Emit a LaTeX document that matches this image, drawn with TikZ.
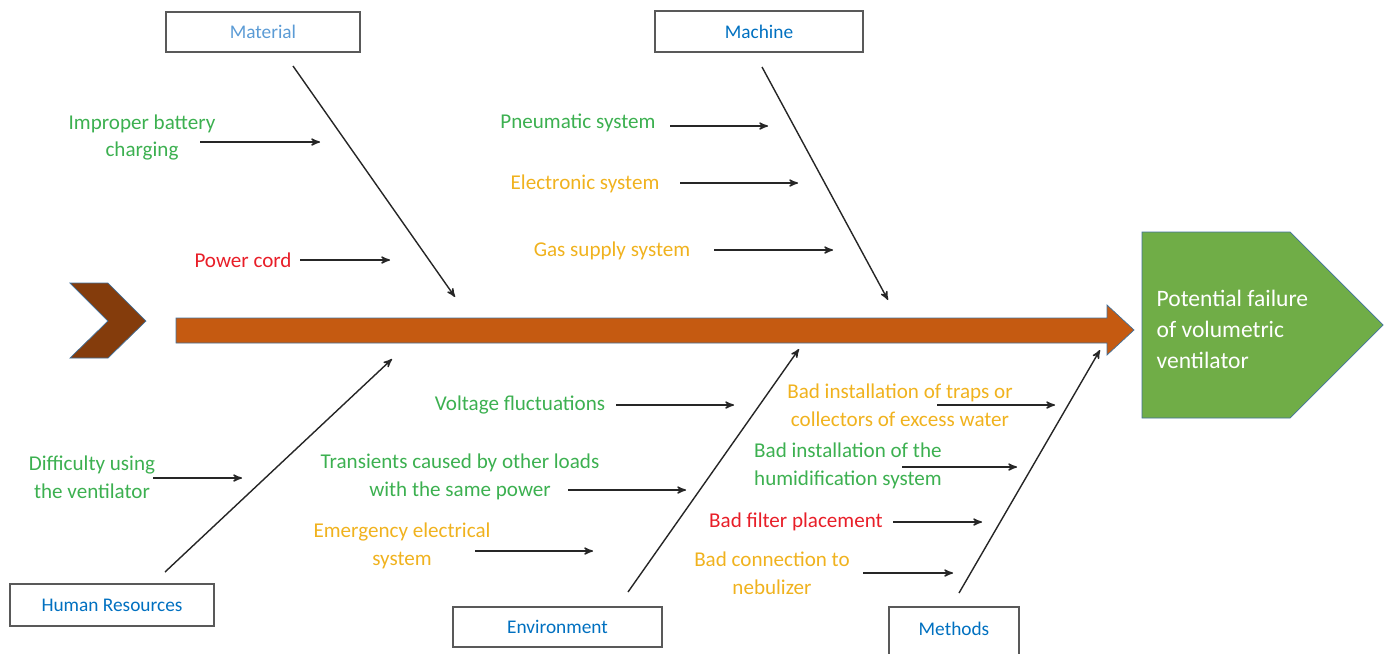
\documentclass[tikz,border=0pt]{standalone}
\usepackage{fontspec}
\setmainfont{Carlito}
\usetikzlibrary{arrows}

\definecolor{spineorange}{RGB}{197,90,17}
\definecolor{tailbrown}{RGB}{132,60,12}
\definecolor{headgreen}{RGB}{112,173,71}
\definecolor{edgeblue}{RGB}{65,113,156}
\definecolor{causegreen}{RGB}{60,176,80}
\definecolor{causegold}{RGB}{240,178,30}
\definecolor{causered}{RGB}{232,30,40}
\definecolor{catblue}{RGB}{0,112,192}
\definecolor{catlight}{RGB}{91,155,213}

\begin{document}
\begin{tikzpicture}[->,>=stealth', x=0.02cm, y=-0.02cm,
  line width=0.8pt, draw=black!85,
  every node/.style={inner sep=0pt, align=center,
    font=\fontsize{12}{15.9}\selectfont},
  catbox/.style={rectangle, draw=black!65, line width=0.9pt},
  catlabel/.style={text=catblue, font=\fontsize{11}{13}\selectfont},
  green/.style={text=causegreen},
  gold/.style={text=causegold},
  red/.style={text=causered}]

  \useasboundingbox (0,0) rectangle (1390,653);

  % tail and spine
  \filldraw[-, fill=tailbrown, draw=edgeblue, line width=0.4pt]
    (70,283) -- (108,283) -- (146,321) -- (108,358) -- (70,358) -- (108,321) -- cycle;
  \filldraw[-, fill=spineorange, draw=edgeblue, line width=0.4pt]
    (176,318) -- (1107,318) -- (1107,305) -- (1134,330) -- (1107,355)
    -- (1107,343) -- (176,343) -- cycle;

  % head
  \filldraw[-, fill=headgreen, draw=edgeblue, line width=0.4pt]
    (1142,232) -- (1290,232) -- (1383,325) -- (1290,418) -- (1142,418) -- cycle;
  \node[anchor=west, align=left, text=white,
        font=\fontsize{13.4}{17.6}\selectfont
        ] (eff) at (1156,329) {Potential failure\\of volumetric\\ventilator};

  % categories
  \node[catbox,
        minimum width = 3.88cm,
        minimum height = 0.8cm
        ] (mat) at (263,32) {};
  \node[catlabel, text=catlight] (matlab) at (mat.center) {Material};

  \node[catbox,
        minimum width = 4.16cm,
        minimum height = 0.82cm
        ] (mach) at (759,31.5) {};
  \node[catlabel] (machlab) at (mach.center) {Machine};

  \node[catbox,
        minimum width = 4.08cm,
        minimum height = 0.84cm
        ] (hr) at (112,605) {};
  \node[catlabel] (hrlab) at (hr.center) {Human Resources};

  \node[catbox,
        minimum width = 4.18cm,
        minimum height = 0.8cm
        ] (env) at (557.5,627) {};
  \node[catlabel] (envlab) at (env.center) {Environment};

  \node[catbox,
        minimum width = 2.6cm,
        minimum height = 1cm
        ] (meth) at (954,632) {};
  \node[catlabel] (methlab) at (954,629) {Methods};

  % bone ends
  \coordinate (mat1) at (293,66);   \coordinate (mat2) at (455,297);
  \coordinate (mach1) at (762,67);  \coordinate (mach2) at (888,300);
  \coordinate (hr1) at (165,572);   \coordinate (hr2) at (392,359);
  \coordinate (env1) at (628,592);  \coordinate (env2) at (799,349);
  \coordinate (meth1) at (959,593); \coordinate (meth2) at (1100,350);

  % causes
  \node[green] (impr) at (142,137.5) {Improper battery\\charging};
  \node[red] (cord) at (243,260) {Power cord};
  \node[green] (pneu) at (578,123) {Pneumatic system};
  \node[gold] (elec) at (585,184) {Electronic system};
  \node[gold] (gas) at (612,251) {Gas supply system};
  \node[green] (diff) at (92,477) {Difficulty using\\the ventilator};
  \node[green] (volt) at (520,405) {Voltage fluctuations};
  \node[green] (trans) at (460,477) {Transients caused by other loads\\with the same power};
  \node[gold] (emer) at (402,546) {Emergency electrical\\system};
  \node[gold] (traps) at (900,405) {Bad installation of traps or\\collectors of excess water};
  \node[green, align=left] (humid) at (848,466) {Bad installation of the\\humidification system};
  \node[red] (filt) at (796,522) {Bad filter placement};
  \node[gold] (nebu) at (772,573) {Bad connection to\\nebulizer};

  % cause arrow ends
  \coordinate (impr1) at (200,142);  \coordinate (impr2) at (320,142);
  \coordinate (cord1) at (300,260);  \coordinate (cord2) at (390,260);
  \coordinate (pneu1) at (670,126);  \coordinate (pneu2) at (768,126);
  \coordinate (elec1) at (680,183);  \coordinate (elec2) at (798,183);
  \coordinate (gas1) at (714,250);   \coordinate (gas2) at (833,250);
  \coordinate (diff1) at (153,478);  \coordinate (diff2) at (242,478);
  \coordinate (volt1) at (616,405);  \coordinate (volt2) at (734,405);
  \coordinate (trans1) at (568,490); \coordinate (trans2) at (686,490);
  \coordinate (emer1) at (475,551);  \coordinate (emer2) at (593,551);
  \coordinate (traps1) at (937,405); \coordinate (traps2) at (1055,405);
  \coordinate (humid1) at (902,467); \coordinate (humid2) at (1017,467);
  \coordinate (filt1) at (893,522);  \coordinate (filt2) at (982,522);
  \coordinate (nebu1) at (863,573);  \coordinate (nebu2) at (953,573);

  \path
  % bones
  (mat1) edge (mat2)
  (mach1) edge (mach2)
  (hr1) edge (hr2)
  (env1) edge (env2)
  (meth1) edge (meth2)
  % causes
  (impr1) edge (impr2)
  (cord1) edge (cord2)
  (pneu1) edge (pneu2)
  (elec1) edge (elec2)
  (gas1) edge (gas2)
  (diff1) edge (diff2)
  (volt1) edge (volt2)
  (trans1) edge (trans2)
  (emer1) edge (emer2)
  (traps1) edge (traps2)
  (humid1) edge (humid2)
  (filt1) edge (filt2)
  (nebu1) edge (nebu2);

\end{tikzpicture}
\end{document}
